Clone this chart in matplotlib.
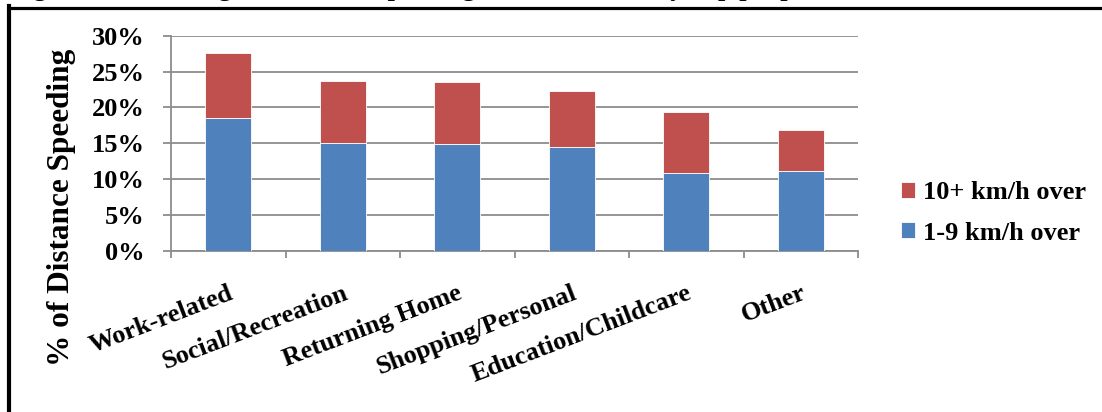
import numpy as np
import matplotlib.pyplot as plt
from matplotlib.ticker import FuncFormatter, MultipleLocator
from matplotlib.lines import Line2D

plt.rcParams['font.family'] = ['Liberation Serif', 'DejaVu Serif']
plt.rcParams['font.weight'] = 'bold'

# trip purpose categories and share of distance driven over the limit (%)
purposes = ["Work-related", "Social/Recreation", "Returning Home",
            "Shopping/Personal", "Education/Childcare", "Other"]
low_over = [18.5, 15.1, 14.95, 14.45, 10.85, 11.2]    # 1-9 km/h over
high_over = [9.1, 8.6, 8.65, 7.8, 8.55, 5.65]         # 10+ km/h over

BLUE = "#4F81BD"
RED = "#C0504D"
GRID = "#8c8c8c"
FS = 19

W, H = 1102, 412
fig = plt.figure(figsize=(W / 100, H / 100), dpi=100)
ax = fig.add_axes([171 / W, 1 - 251 / H, (858 - 171) / W, (251 - 35.7) / H])

x = np.arange(len(purposes))
ax.bar(x, low_over, width=0.4, color=BLUE, edgecolor="white", linewidth=0.6,
       label="1-9 km/h over", zorder=3)
ax.bar(x, high_over, width=0.4, bottom=low_over, color=RED, edgecolor="white",
       linewidth=0.6, label="10+ km/h over", zorder=3)

ax.set_xlim(-0.5, len(purposes) - 0.5)
ax.set_ylim(0, 30)
ax.yaxis.set_major_locator(MultipleLocator(5))
ax.yaxis.set_major_formatter(FuncFormatter(lambda v, p: "%d%%" % v))
ax.grid(axis="y", color=GRID, linewidth=1.3, zorder=0)

for s in ("top", "right"):
    ax.spines[s].set_visible(False)
for s in ("left", "bottom"):
    ax.spines[s].set_color(GRID)
    ax.spines[s].set_linewidth(1.3)

ax.tick_params(axis="y", length=6, width=1.3, color=GRID, labelsize=FS, pad=13)
ax.set_xticks(x)
ax.set_xticklabels(purposes, rotation=21, ha="right", rotation_mode="anchor",
                   fontsize=FS)
ax.tick_params(axis="x", which="major", length=0, pad=22)
ax.set_xticks(np.arange(len(purposes) + 1) - 0.5, minor=True)
ax.tick_params(axis="x", which="minor", length=5, width=1.3, color=GRID)

fig.text(62 / W, 1 - 207 / H, "% of Distance Speeding", rotation=90,
         ha="center", va="center", fontsize=22.5)

# legend, red entry first
handles, labels = ax.get_legend_handles_labels()
leg = fig.legend(handles[::-1], labels[::-1], loc="center left",
                 bbox_to_anchor=(877 / W, 1 - 213 / H), frameon=False,
                 fontsize=FS, handlelength=0.55, handleheight=0.55,
                 handletextpad=0.3, labelspacing=0.65)

# caption sitting above the frame, mostly cut off
fig.text(10 / W, 1 + 4 / H, "Figure 4: Percentage of distance speeding in school zones by trip purpose",
         ha="left", va="baseline", fontsize=FS)

# frame lines
fig.add_artist(Line2D([9 / W, 1], [1 - 7.5 / H, 1 - 7.5 / H], color="black",
                      linewidth=2.3, transform=fig.transFigure))
fig.add_artist(Line2D([9 / W, 9 / W], [0, 1 - 6 / H], color="black",
                      linewidth=3.0, transform=fig.transFigure))

fig.savefig("out.png", dpi=100)
